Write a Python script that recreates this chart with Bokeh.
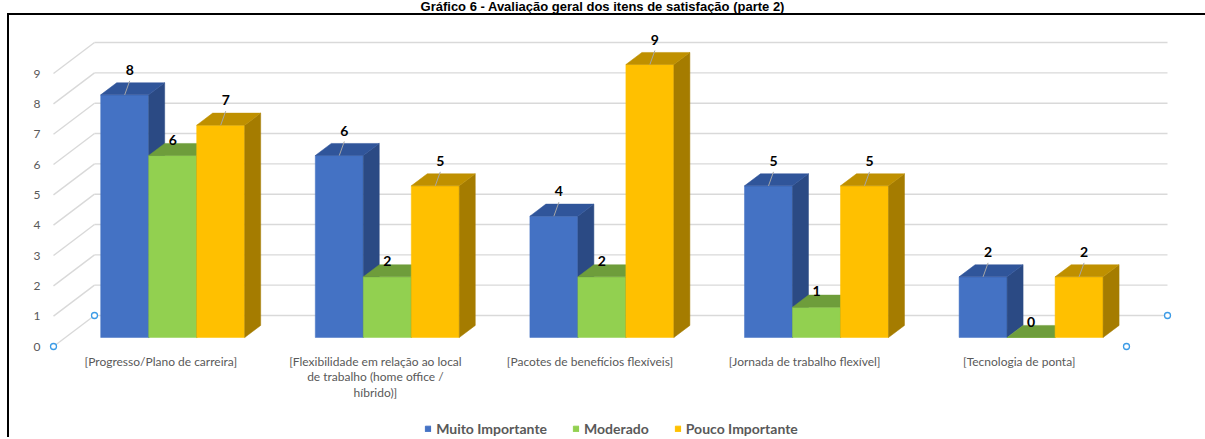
import numpy as np
from bokeh.plotting import figure
from bokeh.models import (ColumnDataSource, Range1d, FixedTicker, Legend, LegendItem, Div)
from bokeh.layouts import column, row
from bokeh.core.properties import value
from bokeh.embed import file_html
from bokeh.resources import INLINE

# ---------------- data ----------------
title_text = "Gráfico 6 - Avaliação geral dos itens de satisfação (parte 2)"
categories = [
    "[Progresso/Plano de carreira]",
    "[Flexibilidade em relação ao local de trabalho (home office / híbrido)]",
    "[Pacotes de benefícios flexíveis]",
    "[Jornada de trabalho flexível]",
    "[Tecnologia de ponta]",
]
category_tick_labels = [
    "[Progresso/Plano de carreira]",
    "[Flexibilidade em relação ao local\nde trabalho (home office /\nhíbrido)]",
    "[Pacotes de benefícios flexíveis]",
    "[Jornada de trabalho flexível]",
    "[Tecnologia de ponta]",
]
series_names = ["Muito Importante", "Moderado", "Pouco Importante"]
muito_importante = [8, 6, 4, 5, 2]
moderado = [6, 2, 2, 1, 0]
pouco_importante = [7, 5, 9, 5, 2]
y_ticks = [0, 1, 2, 3, 4, 5, 6, 7, 8, 9]

series_values = [muito_importante, moderado, pouco_importante]

# ---------------- styles / geometry ----------------
front_colors = ["#4472C4", "#92D050", "#FFC000"]
top_colors = ["#30559A", "#6E9D3B", "#BF9000"]
side_colors = ["#2B4A84", "#5C8A30", "#A57C00"]
label_leader = [True, False, True]

PAGE_W = 1205
TITLE_H = 13
LINE_W = 2
LEFT_GAP = 7
CANVAS_W = PAGE_W - LEFT_GAP - LINE_W          # 1196
PX_X = 214.6     # pixels per category
PX_Y = 30.33     # pixels per value unit
PAD_L_PX, PAD_B_PX = 6.0, 5.0                  # room around the floor handles
FRAME_W, FRAME_H = 1128, 331
BORDER_L, BORDER_T, BORDER_B = 38, 5, 59
BORDER_R = CANVAS_W - BORDER_L - FRAME_W
LEGEND_H = 27
x_start = -PAD_L_PX / PX_X
x_end = x_start + FRAME_W / PX_X
y_start = -PAD_B_PX / PX_Y
y_end = y_start + FRAME_H / PX_Y

DEPTH_X = 41.0 / PX_X   # full floor depth in x units
DEPTH_Y = 31.0 / PX_Y   # full floor depth in y units
BAR_D0 = 0.29           # bar front plane (fraction of depth)
BAR_DD = 0.39           # bar thickness (fraction of depth)
BAR_W = 48.0 / PX_X
n_cat = len(categories)

p = figure(frame_width=FRAME_W, frame_height=FRAME_H, output_backend="svg",
           toolbar_location=None,
           x_range=Range1d(x_start, x_end), y_range=Range1d(y_start, y_end),
           min_border_left=BORDER_L, min_border_right=BORDER_R,
           min_border_top=BORDER_T, min_border_bottom=BORDER_B,
           background_fill_color="white", border_fill_color="white", margin=0)
p.outline_line_color = None
p.xgrid.visible = False
p.ygrid.visible = False

# back wall gridlines and side wall diagonals
grid_src = ColumnDataSource(dict(
    x0=[DEPTH_X for v in y_ticks], y0=[v + DEPTH_Y for v in y_ticks],
    x1=[n_cat + DEPTH_X for v in y_ticks], y1=[v + DEPTH_Y for v in y_ticks]))
p.segment("x0", "y0", "x1", "y1", source=grid_src, line_color="#d9d9d9", line_width=1.4)
diag_src = ColumnDataSource(dict(
    x0=[0 for v in y_ticks], y0=[v for v in y_ticks],
    x1=[DEPTH_X for v in y_ticks], y1=[v + DEPTH_Y for v in y_ticks]))
p.segment("x0", "y0", "x1", "y1", source=diag_src, line_color="#d9d9d9", line_width=1.4)

# floor corner handles
p.scatter(x=[0, DEPTH_X, n_cat, n_cat + DEPTH_X], y=[0, DEPTH_Y, 0, DEPTH_Y],
          marker="circle", size=6, fill_color="white", line_color="#3C9BE6", line_width=1.3)

# bars
ddx = BAR_DD * DEPTH_X
ddy = BAR_DD * DEPTH_Y
for j, vals in enumerate(series_values):
    xl, xr, yb, yt = [], [], [], []
    sx, sy, tx, ty = [], [], [], []
    lx, ly, txt = [], [], []
    ld_x0, ld_y0, ld_x1, ld_y1 = [], [], [], []
    for i, v in enumerate(vals):
        c = i + 0.5 + (j - 1) * BAR_W + BAR_D0 * DEPTH_X
        l, r = c - BAR_W / 2, c + BAR_W / 2
        b = BAR_D0 * DEPTH_Y
        t = b + v
        xl.append(l); xr.append(r); yb.append(b); yt.append(t)
        sx.append([r, r + ddx, r + ddx, r]); sy.append([b, b + ddy, t + ddy, t])
        tx.append([l, r, r + ddx, l + ddx]); ty.append([t, t, t + ddy, t + ddy])
        txt.append(str(v))
        if label_leader[j]:
            lx.append(c + 5.0 / PX_X); ly.append(t + 25.0 / PX_Y)
            ld_x0.append(c + 5.0 / PX_X); ld_y0.append(t + 14.0 / PX_Y)
            ld_x1.append(c); ld_y1.append(t)
        else:
            lx.append(c); ly.append(t + 16.0 / PX_Y)
    p.quad(left=xl, right=xr, bottom=yb, top=yt, fill_color=front_colors[j],
           line_color=front_colors[j], line_width=0.5)
    p.patches(xs=sx, ys=sy, fill_color=side_colors[j], line_color=side_colors[j], line_width=0.5)
    p.patches(xs=tx, ys=ty, fill_color=top_colors[j], line_color=top_colors[j], line_width=0.5)
    if ld_x0:
        p.segment(x0=ld_x0, y0=ld_y0, x1=ld_x1, y1=ld_y1, line_color="#A6A6A6", line_width=1)
    p.text(x=lx, y=ly, text=txt, text_align="center", text_baseline="middle",
           text_font=value("Lato"), text_font_style="bold", text_font_size="14px",
           text_color="black")

# axes
p.yaxis.ticker = FixedTicker(ticks=y_ticks)
p.yaxis.axis_line_color = None
p.yaxis.major_tick_line_color = None
p.yaxis.major_tick_out = 0
p.yaxis.major_tick_in = 0
p.yaxis.minor_tick_line_color = None
p.yaxis.major_label_standoff = 7
p.yaxis.major_label_text_font = "Lato"
p.yaxis.major_label_text_font_size = "12px"
p.yaxis.major_label_text_color = "#595959"

x_ticks = [i + 0.5 for i in range(n_cat)]
p.xaxis.ticker = FixedTicker(ticks=x_ticks)
p.xaxis.major_label_overrides = {x_ticks[i]: category_tick_labels[i] for i in range(n_cat)}
p.xaxis.axis_line_color = None
p.xaxis.major_tick_line_color = None
p.xaxis.major_tick_out = 0
p.xaxis.major_tick_in = 0
p.xaxis.minor_tick_line_color = None
p.xaxis.major_label_standoff = 2
p.xaxis.major_label_text_font = "Lato"
p.xaxis.major_label_text_font_size = "12px"
p.xaxis.major_label_text_color = "#595959"
p.xaxis.major_label_text_line_height = 1.06

# legend strip (separate figure so it can sit at the very bottom)
lg = figure(width=CANVAS_W, height=LEGEND_H, output_backend="svg", toolbar_location=None,
            x_range=Range1d(0, 1), y_range=Range1d(0, 1), min_border=0, margin=0,
            background_fill_color="white", border_fill_color="white")
lg.axis.visible = False
lg.xgrid.visible = False
lg.ygrid.visible = False
lg.outline_line_color = None
legend_items = []
for j in range(len(series_names)):
    empty = np.array([np.nan])
    r = lg.quad(left=empty, right=empty, bottom=empty, top=empty,
                fill_color=front_colors[j], line_color=front_colors[j])
    legend_items.append(LegendItem(label=series_names[j], renderers=[r]))
legend = Legend(items=legend_items, location="bottom_center", orientation="horizontal",
                glyph_width=7, glyph_height=7, label_standoff=5, spacing=25,
                label_height=14, padding=0, margin=0, border_line_color=None,
                background_fill_alpha=0, label_text_font="Lato",
                label_text_font_style="bold", label_text_font_size="14px",
                label_text_color="#595959")
lg.add_layout(legend)

plot_h = BORDER_T + FRAME_H + BORDER_B + LEGEND_H
title_div = Div(text=title_text, width=PAGE_W, height=TITLE_H, margin=0,
                styles={"font-family": "Liberation Sans", "font-size": "13px",
                        "font-weight": "bold", "text-align": "center",
                        "line-height": "13px", "color": "black"})
top_line = Div(text="", width=PAGE_W, height=LINE_W, margin=0,
               styles={"background": "linear-gradient(to right, white 0px, white %dpx, black %dpx, black 100%%)"
                                     % (LEFT_GAP, LEFT_GAP),
                       "flex-shrink": "0"})
left_line = Div(text="", width=LEFT_GAP + LINE_W, height=plot_h, margin=0,
                styles={"background": "linear-gradient(to right, white 0px, white %dpx, black %dpx, black %dpx)"
                                      % (LEFT_GAP, LEFT_GAP, LEFT_GAP + LINE_W),
                        "flex-shrink": "0"})
inner = column(p, lg, spacing=0, margin=0)
body = row(left_line, inner, spacing=0, margin=0)
layout = column(title_div, top_line, body, spacing=0, margin=0)

open("out.html", "w").write(file_html(layout, INLINE))
